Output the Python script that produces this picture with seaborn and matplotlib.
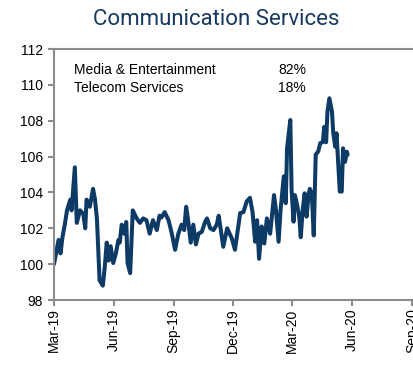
import matplotlib
matplotlib.use("Agg")
import matplotlib.pyplot as plt
import matplotlib.dates as mdates
import pandas as pd
import seaborn as sns

# Communication Services index, rebased to 100 at the start of March 2019
dates = [
    "2019-03-01", "2019-03-08", "2019-03-11", "2019-03-14", "2019-03-18", "2019-03-21",
    "2019-03-26", "2019-03-28", "2019-04-02", "2019-04-05", "2019-04-10", "2019-04-15",
    "2019-04-18", "2019-04-20", "2019-04-25", "2019-04-30", "2019-05-03", "2019-05-06",
    "2019-05-10", "2019-05-15", "2019-05-18", "2019-05-21", "2019-05-24", "2019-05-27",
    "2019-05-31", "2019-06-04", "2019-06-08", "2019-06-10", "2019-06-13", "2019-06-17",
    "2019-06-20", "2019-06-22", "2019-06-26", "2019-06-30", "2019-07-06", "2019-07-11",
    "2019-07-16", "2019-07-21", "2019-07-26", "2019-07-31", "2019-08-06", "2019-08-10",
    "2019-08-13", "2019-08-18", "2019-08-24", "2019-08-29", "2019-09-03", "2019-09-08",
    "2019-09-13", "2019-09-17", "2019-09-20", "2019-09-23", "2019-09-27", "2019-10-01",
    "2019-10-05", "2019-10-09", "2019-10-14", "2019-10-19", "2019-10-22", "2019-10-27",
    "2019-11-01", "2019-11-06", "2019-11-09", "2019-11-16", "2019-11-22", "2019-11-29",
    "2019-12-04", "2019-12-12", "2019-12-17", "2019-12-22", "2019-12-27", "2019-12-31",
    "2020-01-04", "2020-01-07", "2020-01-10", "2020-01-14", "2020-01-18", "2020-01-22",
    "2020-01-27", "2020-02-02", "2020-02-05", "2020-02-09", "2020-02-12", "2020-02-17",
    "2020-02-20", "2020-02-22", "2020-02-27", "2020-02-29", "2020-03-03", "2020-03-05",
    "2020-03-09", "2020-03-12", "2020-03-14", "2020-03-17", "2020-03-20", "2020-03-23",
    "2020-03-26", "2020-03-28", "2020-03-31", "2020-04-03", "2020-04-06", "2020-04-10",
    "2020-04-13", "2020-04-17", "2020-04-19", "2020-04-22", "2020-04-24", "2020-04-27",
    "2020-05-01", "2020-05-03", "2020-05-06", "2020-05-08", "2020-05-11", "2020-05-13",
    "2020-05-16", "2020-05-18", "2020-05-21", "2020-05-24", "2020-05-25",
]
index_values = [
    100.0, 101.35, 100.6, 101.5, 102.3, 103.0,
    103.6, 103.0, 105.4, 102.3, 103.0, 102.8,
    102.0, 103.6, 103.2, 104.2, 103.6, 102.5,
    99.1, 98.8, 99.85, 101.2, 100.2, 101.0,
    100.06, 100.6, 101.35, 101.2, 102.2, 101.7,
    102.35, 100.06, 99.5, 103.0, 102.55, 102.3,
    102.55, 102.45, 101.7, 102.45, 101.9, 102.7,
    102.6, 102.9, 102.45, 101.7, 100.8, 101.7,
    102.2, 101.9, 103.2, 102.45, 101.2, 102.2,
    101.1, 101.7, 101.8, 102.35, 102.55, 102.0,
    101.9, 102.2, 102.7, 100.97, 102.0, 101.45,
    100.8, 102.85, 102.9, 103.5, 103.7, 102.9,
    101.25, 102.45, 100.3, 102.1, 101.15, 102.55,
    101.7, 103.85, 103.0, 101.25, 103.0, 104.9,
    103.4, 106.46, 108.04, 104.1, 102.37, 103.85,
    103.2, 102.55, 101.5, 103.0, 103.95, 102.65,
    103.85, 104.2, 103.95, 101.6, 106.1, 106.3,
    106.75, 106.8, 107.65, 106.8, 108.5, 109.25,
    108.5, 107.3, 106.55, 107.3, 105.35, 104.05,
    104.05, 106.46, 105.7, 106.27, 106.1,
]

# Sub-industry weights shown in the top-left note
sub_industries = ["Media & Entertainment", "Telecom Services"]
weights = ["82%", "18%"]

title = "Communication Services"
y_ticks = [98, 100, 102, 104, 106, 108, 110, 112]
x_range = ["2019-03-01", "2020-09-04"]

NAVY = "#0e3a66"
TITLE_BLUE = "#17395f"
SPINE = "#8c8c8c"

sns.set_style("white")
plt.rcParams["font.family"] = ["Liberation Sans", "DejaVu Sans"]

df = pd.DataFrame({"date": pd.to_datetime(dates), "value": index_values})

fig = plt.figure(figsize=(4.14, 3.74), dpi=100)
ax = fig.add_axes([54 / 414, 74 / 374, 360 / 414, 251 / 374])

sns.lineplot(data=df, x="date", y="value", ax=ax, color=NAVY, linewidth=2.9,
             solid_joinstyle="round", solid_capstyle="round")

ax.set_xlim(pd.Timestamp(x_range[0]), pd.Timestamp(x_range[1]))
ax.set_ylim(y_ticks[0], y_ticks[-1])
ax.set_yticks(y_ticks)
ax.xaxis.set_major_locator(mdates.MonthLocator(bymonth=[3, 6, 9, 12]))
ax.xaxis.set_major_formatter(mdates.DateFormatter("%b-%y"))
ax.set_xlabel("")
ax.set_ylabel("")

for side in ["left", "bottom", "top"]:
    ax.spines[side].set_visible(True)
    ax.spines[side].set_color(SPINE)
    ax.spines[side].set_linewidth(1.5)
ax.spines["right"].set_visible(False)

ax.tick_params(axis="y", which="major", direction="out", length=4, width=1.5,
               color=SPINE, labelsize=10, pad=4, left=True, labelcolor="black")
ax.tick_params(axis="x", which="major", direction="out", length=4, width=1.5,
               color=SPINE, labelsize=10, pad=2, bottom=True, labelcolor="black")
for lab in ax.get_xticklabels():
    lab.set_rotation(90)
    lab.set_ha("center")
    lab.set_va("top")

fig.text(216 / 414, (374 - 25) / 374, title, ha="center", va="baseline",
         fontsize=16, color=TITLE_BLUE, family=["Roboto", "DejaVu Sans"])

baselines = [74, 92]
for name, w, yb in zip(sub_industries, weights, baselines):
    fig.text(74 / 414, (374 - yb) / 374, name, ha="left", va="baseline",
             fontsize=10, color="black")
    fig.text(278 / 414, (374 - yb) / 374, w, ha="left", va="baseline",
             fontsize=10, color="black")

fig.savefig("out.png", dpi=100)
